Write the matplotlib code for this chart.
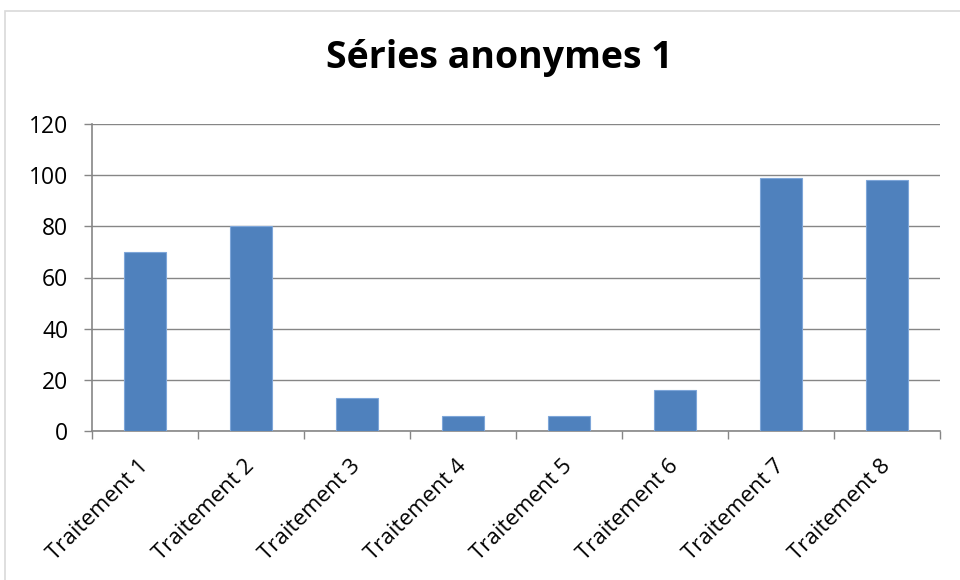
import matplotlib.pyplot as plt
from matplotlib.patches import Rectangle
import matplotlib.transforms as mtransforms

categories = ["Traitement 1", "Traitement 2", "Traitement 3", "Traitement 4",
              "Traitement 5", "Traitement 6", "Traitement 7", "Traitement 8"]
values = [70, 80, 13, 6, 6, 16, 99, 98]
y_ticks = [0, 20, 40, 60, 80, 100, 120]
title = "Séries anonymes 1"

plt.rcParams['font.family'] = ['Open Sans', 'DejaVu Sans']

fig = plt.figure(figsize=(9.6, 5.8), dpi=100)
fig.patch.set_facecolor('white')

# light outer chart frame
fig.patches.append(Rectangle((5 / 960, -0.01), 1.0, 1 - 11 / 580 + 0.01,
                             transform=fig.transFigure, fill=False,
                             edgecolor='#d9d9d9', linewidth=1.2))

ax = fig.add_axes([92 / 960, 1 - 431 / 580, 848 / 960, 307 / 580])
grid_c = '#868686'
x = list(range(len(categories)))
ax.bar(x, values, width=0.4, color='#4f81bd', edgecolor='#7ea6d9',
       linewidth=0.8, zorder=3)

ax.set_xlim(-0.5, len(categories) - 0.5)
ax.set_ylim(0, 120)
ax.set_yticks(y_ticks)
ax.set_yticklabels([str(v) for v in y_ticks], fontsize=16.5, color='black')
ax.yaxis.grid(True, color=grid_c, linewidth=1.0, zorder=0)
ax.tick_params(axis='y', length=6, width=1.0, color=grid_c, pad=11)

# category boundary ticks on x axis
ax.set_xticks([i - 0.5 for i in range(len(categories) + 1)])
ax.set_xticklabels([])
ax.tick_params(axis='x', length=6, width=1.0, color=grid_c)

offset = mtransforms.ScaledTranslation(0 / 100, -32 / 100, fig.dpi_scale_trans)
for i, lab in enumerate(categories):
    ax.text(i, 0, lab, transform=ax.get_xaxis_transform() + offset,
            rotation=45, rotation_mode='anchor', ha='right', va='center',
            fontsize=16, color='black')

for side in ['top', 'right']:
    ax.spines[side].set_visible(False)
for side in ['left', 'bottom']:
    ax.spines[side].set_color(grid_c)
    ax.spines[side].set_linewidth(1.2)

fig.text(499 / 960, 1 - 58 / 580, title, ha='center', va='center',
         fontsize=27, fontweight='bold', color='black')

fig.savefig('out.png', dpi=100)
